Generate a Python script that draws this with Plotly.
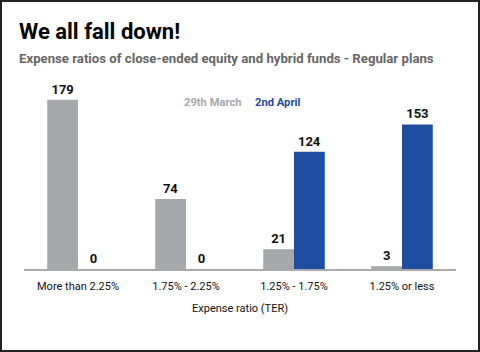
import plotly.graph_objects as go

categories = ["More than 2.25%", "1.75% - 2.25%", "1.25% - 1.75%", "1.25% or less"]
series_names = ["29th March", "2nd April"]
march_values = [179, 74, 21, 3]
april_values = [0, 0, 124, 153]
colors = ["#A7A8AB", "#1F4DA0"]

title_text = "We all fall down!"
subtitle_text = "Expense ratios of close-ended equity and hybrid funds - Regular plans"
x_title = "Expense ratio (TER)"

FONT = "Roboto, Liberation Sans, sans-serif"

W, H = 480, 352
ML, MR, MT, MB = 24, 24, 80, 83
PW, PH = W - ML - MR, H - MT - MB

fig = go.Figure()
for name, vals, col in zip(series_names, [march_values, april_values], colors):
    fig.add_trace(go.Bar(
        x=categories, y=vals, name=name, marker_color=col,
        marker_line_width=0,
        text=[str(v) for v in vals], textposition="outside",
        textfont=dict(family=FONT, size=13, color="#111111", weight="bold"),
        cliponaxis=False,
    ))

annotations = [
    dict(text="<b>" + title_text + "</b>", xref="paper", yref="paper",
         x=(17 - ML) / PW, y=1 + (MT - 17) / PH, xanchor="left", yanchor="top",
         showarrow=False, font=dict(family=FONT, size=22, color="#000000")),
    dict(text="<b>" + subtitle_text + "</b>", xref="paper", yref="paper",
         x=(17 - ML) / PW, y=1 + (MT - 49) / PH, xanchor="left", yanchor="top",
         showarrow=False, font=dict(family=FONT, size=13.2, color="#666666")),
    dict(text="<b>" + series_names[0] + "</b>", xref="paper", yref="paper",
         x=(182 - ML) / PW, y=(269 - 102) / PH, xanchor="left", yanchor="middle",
         showarrow=False, font=dict(family=FONT, size=11.2, color=colors[0])),
    dict(text="<b>" + series_names[1] + "</b>", xref="paper", yref="paper",
         x=(253 - ML) / PW, y=(269 - 102) / PH, xanchor="left", yanchor="middle",
         showarrow=False, font=dict(family=FONT, size=11.2, color=colors[1])),
]

shapes = [
    dict(type="rect", xref="paper", yref="paper",
         x0=(1 - ML) / PW, x1=(W - 1 - ML) / PW,
         y0=-(H - 1 - (MT + PH)) / PH, y1=1 + (MT - 1) / PH,
         line=dict(color="#222222", width=2), fillcolor="rgba(0,0,0,0)", layer="above"),
]

fig.update_layout(
    width=W, height=H,
    margin=dict(l=ML, r=MR, t=MT, b=MB, pad=0),
    paper_bgcolor="white", plot_bgcolor="white",
    barmode="group", bargap=0.43, bargroupgap=0,
    showlegend=False,
    font=dict(family=FONT, color="#111111"),
    annotations=annotations, shapes=shapes,
    xaxis=dict(showline=True, linecolor="#AAAAAA", linewidth=2, ticks="",
               ticklabelstandoff=6,
               tickfont=dict(family=FONT, size=11, color="#111111"),
               title=dict(text=x_title, standoff=12,
                          font=dict(family=FONT, size=11, color="#111111"))),
    yaxis=dict(range=[0, 200], visible=False, showgrid=False, zeroline=False),
)

fig.write_html("out.html")
